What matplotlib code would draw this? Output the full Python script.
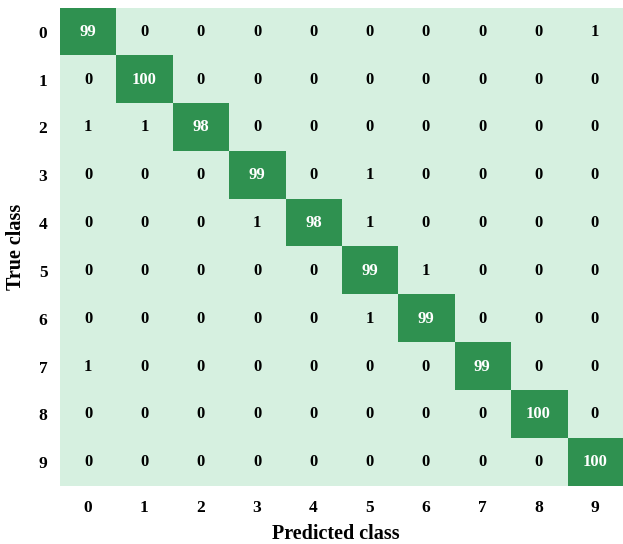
import numpy as np
import matplotlib
matplotlib.use("Agg")
import matplotlib.pyplot as plt
from matplotlib.colors import ListedColormap

classes = ["0", "1", "2", "3", "4", "5", "6", "7", "8", "9"]
row0 = [99, 0, 0, 0, 0, 0, 0, 0, 0, 1]
row1 = [0, 100, 0, 0, 0, 0, 0, 0, 0, 0]
row2 = [1, 1, 98, 0, 0, 0, 0, 0, 0, 0]
row3 = [0, 0, 0, 99, 0, 1, 0, 0, 0, 0]
row4 = [0, 0, 0, 1, 98, 1, 0, 0, 0, 0]
row5 = [0, 0, 0, 0, 0, 99, 1, 0, 0, 0]
row6 = [0, 0, 0, 0, 0, 1, 99, 0, 0, 0]
row7 = [1, 0, 0, 0, 0, 0, 0, 99, 0, 0]
row8 = [0, 0, 0, 0, 0, 0, 0, 0, 100, 0]
row9 = [0, 0, 0, 0, 0, 0, 0, 0, 0, 100]

cm = np.array([row0, row1, row2, row3, row4, row5, row6, row7, row8, row9])

plt.rcParams['font.family'] = ['Liberation Serif', 'DejaVu Serif']

fig = plt.figure(figsize=(6.23, 5.44), dpi=100)
ax = fig.add_axes([0.0963, 0.1066, 0.9037, 0.8787])

light = "#d6f0e0"
dark = "#2f9150"
cmap = ListedColormap([light, dark])
mask = (cm >= 50).astype(int)
ax.imshow(mask, cmap=cmap, aspect='auto', vmin=0, vmax=1, interpolation='nearest')

n = len(classes)
for i in range(n):
    for j in range(n):
        v = cm[i, j]
        ax.text(j, i, str(v), ha='center', va='center', fontsize=12,
                fontweight='bold', color='white' if v >= 50 else 'black')

ax.set_xticks(range(n))
ax.set_yticks(range(n))
ax.set_xticklabels(classes, fontsize=12.5, fontweight='bold')
ax.set_yticklabels(classes, fontsize=12.5, fontweight='bold')
ax.tick_params(axis='x', length=0, pad=10)
ax.tick_params(axis='y', length=0, pad=9)
for s in ax.spines.values():
    s.set_visible(False)

ax.set_xlabel("Predicted class", fontsize=14.5, fontweight='bold')
ax.set_ylabel("True class", fontsize=14.5, fontweight='bold')
ax.xaxis.set_label_coords(0.49, -0.08)
ax.yaxis.set_label_coords(-0.06, 0.5)

fig.savefig("out.png", dpi=100)
